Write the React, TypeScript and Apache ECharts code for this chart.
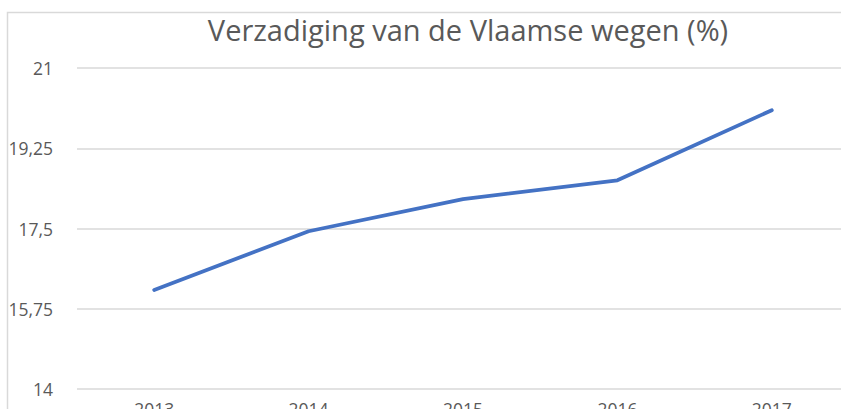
import React, { useEffect, useRef } from "react";
import * as echarts from "echarts";

const categories = ["2013", "2014", "2015", "2016", "2017"];
const saturation = [16.16, 17.44, 18.14, 18.55, 20.08];
const yMin = 14;
const yMax = 21;
const yInterval = 1.75;
const titleText = "Verzadiging van de Vlaamse wegen (%)";

export default function App() {
  const ref = useRef<HTMLDivElement>(null);
  useEffect(() => {
    if (!ref.current) return;
    const chart = echarts.init(ref.current, null, { renderer: "svg" });
    const font = "'Open Sans', 'DejaVu Sans', sans-serif";
    chart.setOption({
      animation: false,
      backgroundColor: "#ffffff",
      title: {
        text: titleText,
        left: 463,
        textAlign: "center",
        top: 10,
        textStyle: { fontFamily: font, fontSize: 29, fontWeight: "normal", color: "#595959" },
      },
      graphic: [
        {
          type: "rect",
          shape: { x: 7.5, y: 12.5, width: 900, height: 500 },
          style: { fill: "none", stroke: "#d9d9d9", lineWidth: 1.5 },
          silent: true,
          z: -1,
        },
      ],
      grid: { left: 77, right: 11, top: 68, bottom: 41, containLabel: false },
      xAxis: {
        type: "category",
        data: categories,
        boundaryGap: true,
        axisLine: { show: false },
        axisTick: { show: false },
        axisLabel: { fontFamily: font, fontSize: 17.5, color: "#595959", margin: 11 },
      },
      yAxis: {
        type: "value",
        min: yMin,
        max: yMax,
        interval: yInterval,
        axisLine: { show: false },
        axisTick: { show: false },
        splitLine: { lineStyle: { color: "#d9d9d9", width: 1.5 } },
        axisLabel: {
          fontFamily: font,
          fontSize: 17.5,
          color: "#595959",
          margin: 24,
          formatter: (v: number) => String(v).replace(".", ","),
        },
      },
      series: [
        {
          type: "line",
          data: saturation,
          symbol: "none",
          lineStyle: { color: "#4472C4", width: 3.8, cap: "round", join: "round" },
        },
      ],
    });
    return () => chart.dispose();
  }, []);
  return (
    <div style={{ position: "fixed", left: 0, top: 0, width: 841, height: 409, overflow: "hidden", background: "#fff" }}>
      <div ref={ref} style={{ width: 860, height: 430 }} />
    </div>
  );
}
